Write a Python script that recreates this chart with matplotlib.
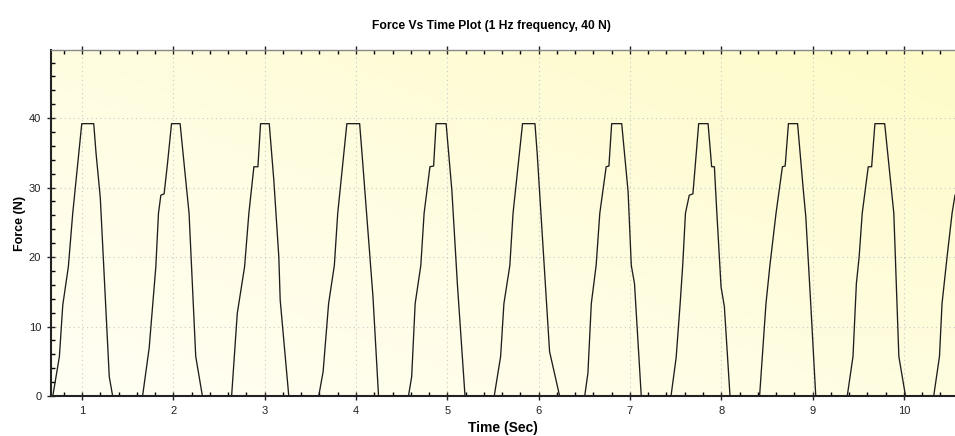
import matplotlib
matplotlib.use("Agg")
import matplotlib.pyplot as plt
import numpy as np
from matplotlib.colors import LinearSegmentedColormap
from matplotlib.ticker import MultipleLocator

plt.rcParams['font.family'] = ['Liberation Sans', 'DejaVu Sans']

# force trace (time in s, force in N)
time_s = [0.68, 0.752, 0.789, 0.850, 0.898, 0.997, 1.128, 1.153, 1.20, 1.298, 1.335,
          1.663, 1.735, 1.808, 1.837, 1.863, 1.899, 1.936, 1.98, 2.074, 2.117, 2.172, 2.245, 2.318,
          2.638, 2.70, 2.78, 2.827, 2.882, 2.926, 2.955, 3.05, 3.10, 3.155, 3.17, 3.264,
          3.592, 3.64, 3.70, 3.763, 3.80, 3.90, 4.04, 4.066, 4.186, 4.247,
          4.575, 4.61, 4.648, 4.71, 4.746, 4.81, 4.85, 4.877, 4.987, 5.05, 5.11, 5.194,
          5.514, 5.584, 5.62, 5.685, 5.72, 5.824, 5.96, 5.984, 6.12, 6.23,
          6.505, 6.54, 6.577, 6.63, 6.67, 6.74, 6.77, 6.80, 6.91, 6.98, 7.015, 7.05, 7.124,
          7.45, 7.506, 7.55, 7.578, 7.608, 7.65, 7.69, 7.753, 7.856, 7.895, 7.925, 7.95, 7.998, 8.034, 8.096,
          8.42, 8.49, 8.533, 8.60, 8.67, 8.70, 8.736, 8.836, 8.897, 8.926, 8.98, 9.035,
          9.38, 9.443, 9.48, 9.51, 9.544, 9.61, 9.647, 9.683, 9.79, 9.89, 9.945, 10.018,
          10.327, 10.39, 10.418, 10.473, 10.528, 10.56]
force_n = [0, 5.7, 13.1, 18.6, 26.3, 39.2, 39.2, 35, 28.5, 2.8, 0,
           0, 6.9, 18.6, 26.3, 28.9, 29.1, 33.5, 39.2, 39.2, 33.5, 26.3, 5.7, 0,
           0, 11.9, 18.6, 26.3, 33.0, 33.0, 39.2, 39.2, 31.1, 20.0, 13.8, 0,
           0, 3.5, 13.3, 18.8, 26.3, 39.2, 39.2, 34.9, 14.3, 0,
           0, 2.8, 13.3, 18.8, 26.3, 33.0, 33.1, 39.2, 39.2, 29.6, 16.2, 0,
           0, 5.7, 13.3, 18.8, 26.3, 39.2, 39.2, 35, 6.4, 0,
           0, 3.3, 13.3, 18.8, 26.3, 33.0, 33.1, 39.2, 39.2, 29.4, 18.8, 16.2, 0,
           0, 5.5, 13.3, 18.8, 26.3, 28.9, 29.1, 39.2, 39.2, 33.0, 33.0, 26.8, 15.7, 12.9, 0,
           0, 13.3, 18.8, 26.3, 33.0, 33.1, 39.2, 39.2, 29.9, 25.8, 13.3, 0,
           0, 5.7, 16.2, 20.0, 26.3, 33.0, 33.0, 39.2, 39.2, 26.3, 5.7, 0,
           0, 5.7, 13.3, 20.0, 26.3, 28.9]

x_ticks = list(range(1, 11))
y_ticks = [0, 10, 20, 30, 40]

fig = plt.figure(figsize=(9.55, 4.36), dpi=100)
ax = fig.add_axes([0.0534, 0.0917, 0.9466, 0.7936])

# yellow diagonal gradient background, pale at bottom-left
cmap = LinearSegmentedColormap.from_list('bg', ['#fffff4', '#fffde0', '#fefbc8'])
gx, gy = np.meshgrid(np.linspace(0, 1, 200), np.linspace(0, 1, 100))
grad = (gx * 0.6 + gy * 0.6) / 1.2
ax.imshow(grad, cmap=cmap, aspect='auto', extent=[0, 1, 0, 1], origin='lower',
          transform=ax.transAxes, zorder=0)

ax.plot(time_s, force_n, color='#1e1e1e', linewidth=0.95, zorder=3)

ax.set_xlim(0.66, 10.56)
ax.set_ylim(0, 49.8)
ax.set_xticks(x_ticks)
ax.set_yticks(y_ticks)
ax.xaxis.set_minor_locator(MultipleLocator(0.2))
ax.yaxis.set_minor_locator(MultipleLocator(2))
ax.tick_params(which='major', direction='inout', length=6, width=1, labelsize=8,
               colors='#222222', top=True, pad=4)
ax.tick_params(which='minor', direction='in', length=3, width=1, top=True)
ax.tick_params(axis='x', which='both', labeltop=False)
ax.grid(True, which='major', linestyle=(0, (1, 3)), color='#c8c8c8', linewidth=0.8)

for side in ['left', 'bottom']:
    ax.spines[side].set_linewidth(1.5)
    ax.spines[side].set_color('#222222')
ax.spines['top'].set_color('#888888')
ax.spines['top'].set_linewidth(1.0)
ax.spines['right'].set_visible(False)

ax.set_xlabel('Time (Sec)', fontsize=10, fontweight='bold', labelpad=4)
ax.set_ylabel('Force (N)', fontsize=9, fontweight='bold', labelpad=2)
fig.suptitle('Force Vs Time Plot (1 Hz frequency, 40 N)', fontsize=8.7, fontweight='bold',
             x=0.515, y=0.955)

fig.savefig('out.png', dpi=100)
